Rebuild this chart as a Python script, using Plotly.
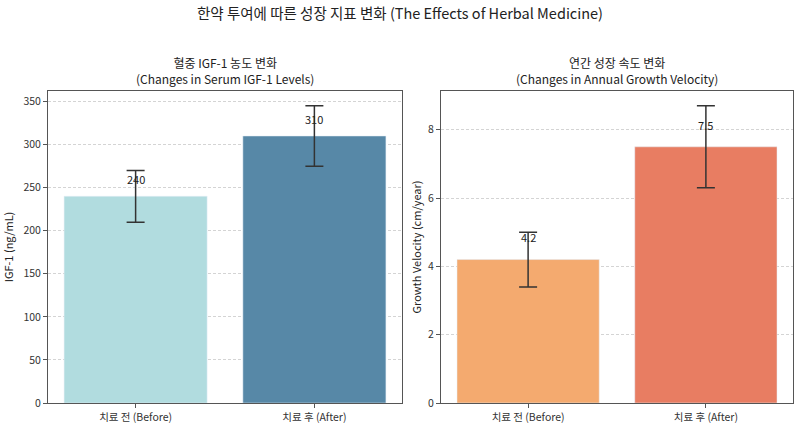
import plotly.graph_objects as go

categories = ["치료 전 (Before)", "치료 후 (After)"]

igf_mean = [240, 310]
igf_err = [30, 35]

gv_mean = [4.2, 7.5]
gv_err = [0.8, 1.2]

igf_colors = ["#B1DCDF", "#5788A7"]
gv_colors = ["#F4AA6F", "#E87D62"]

FONT = "Noto Sans CJK KR"
W, H = 800, 427


def px_x(x):
    return x / W


def px_y(y):
    return 1 - y / H


fig = go.Figure()

fig.add_trace(go.Bar(
    x=[0, 1], y=igf_mean, width=0.8, marker_color=igf_colors,
    error_y=dict(type="data", array=igf_err, color="#333333", thickness=1.5, width=9),
    xaxis="x", yaxis="y", showlegend=False,
))
fig.add_trace(go.Bar(
    x=[0, 1], y=gv_mean, width=0.8, marker_color=gv_colors,
    error_y=dict(type="data", array=gv_err, color="#333333", thickness=1.5, width=9),
    xaxis="x2", yaxis="y2", showlegend=False,
))

# value labels just above the bar tops
annotations = []
for i, v in enumerate(igf_mean):
    annotations.append(dict(x=i, y=v + 20, xref="x", yref="y", text=str(v),
                            showarrow=False, font=dict(size=11, color="#222")))
for i, v in enumerate(gv_mean):
    annotations.append(dict(x=i, y=v + 0.65, xref="x2", yref="y2", text=str(v),
                            showarrow=False, font=dict(size=11, color="#222")))

# subplot titles
annotations.append(dict(x=px_x(225), y=px_y(71), xref="paper", yref="paper",
                        xanchor="center", yanchor="middle", align="center",
                        text="혈중 IGF-1 농도 변화<br>(Changes in Serum IGF-1 Levels)",
                        showarrow=False, font=dict(size=12, color="#222")))
annotations.append(dict(x=px_x(617), y=px_y(71), xref="paper", yref="paper",
                        xanchor="center", yanchor="middle", align="center",
                        text="연간 성장 속도 변화<br>(Changes in Annual Growth Velocity)",
                        showarrow=False, font=dict(size=12, color="#222")))

axis_common = dict(showline=True, mirror=True, linecolor="#555555", linewidth=1,
                   ticks="outside", ticklen=4, tickcolor="#555555", automargin=False,
                   tickfont=dict(size=10.5, color="#333"), zeroline=False)

fig.update_layout(
    width=W, height=H,
    margin=dict(l=0, r=0, t=0, b=0, pad=0),
    paper_bgcolor="white", plot_bgcolor="white",
    font=dict(family=FONT, color="#222"),
    title=dict(text="한약 투여에 따른 성장 지표 변화 (The Effects of Herbal Medicine)",
               x=0.5, xanchor="center", y=px_y(14), yanchor="middle",
               font=dict(size=14.5, color="#222"), automargin=False),
    xaxis=dict(domain=[px_x(48), px_x(402)], range=[-0.49, 1.49], anchor="y",
               tickvals=[0, 1], ticktext=categories, showgrid=False, **axis_common),
    yaxis=dict(domain=[px_y(403), px_y(91)], range=[0, 362.25],
               dtick=50, showgrid=True, gridcolor="#d4d4d4", griddash="3px,2px",
               title=dict(text="IGF-1 (ng/mL)", font=dict(size=11), standoff=7),
               anchor="x", **axis_common),
    xaxis2=dict(domain=[px_x(441), px_x(793)], range=[-0.49, 1.49], anchor="y2",
                tickvals=[0, 1], ticktext=categories, showgrid=False, **axis_common),
    yaxis2=dict(domain=[px_y(403), px_y(91)], range=[0, 9.135],
                dtick=2, showgrid=True, gridcolor="#d4d4d4", griddash="3px,2px",
                title=dict(text="Growth Velocity (cm/year)", font=dict(size=11), standoff=4),
                anchor="x2", **axis_common),
    annotations=annotations,
)

# drop the default 8px body margin so the figure sits at the window corner
fig.write_html("out.html", config={"displayModeBar": False},
               post_script="document.body.style.margin='0';")
